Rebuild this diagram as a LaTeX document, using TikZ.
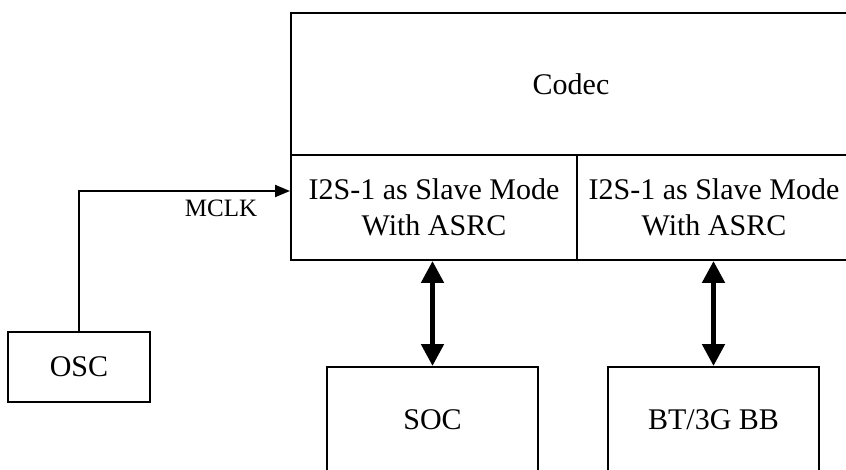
\documentclass[tikz,border=0pt]{standalone}
\usepackage{fontspec}
\setmainfont{Liberation Serif}
\usepackage{tikz}
\usetikzlibrary{calc}
\usetikzlibrary{arrows.meta}

\begin{document}
\begin{tikzpicture}[x=0.5pt, y=-0.5pt,
    box/.style={rectangle, draw=black, line width=1pt, inner sep=0pt, align=center,
                font=\fontsize{15}{18}\selectfont},
    bus/.style={line width=2.5pt, {Triangle[length=11pt,width=11pt]}-{Triangle[length=11pt,width=11pt]}}]
            \clip (0, 0) rectangle (846, 470);
            % codec with its two I2S ports
            \node[box, minimum width=280pt, minimum height=71pt] (codec) at (571, 84) {Codec};
            \node[box, minimum width=143pt, minimum height=52.5pt] (portA) at (434, 207.5) {I2S-1 as Slave Mode\\With ASRC};
            \node[box, minimum width=137pt, minimum height=52.5pt] (portB) at (714, 207.5) {I2S-1 as Slave Mode\\With ASRC};
            % devices below
            \node[box, minimum width=105.5pt, minimum height=53pt] (soc) at (432.5, 420) {SOC};
            \node[box, minimum width=105.5pt, minimum height=53pt] (bb) at (713.5, 420) {BT/3G BB};
            \node[box, minimum width=71pt, minimum height=35pt] (osc) at (79, 367) {OSC};
            % clock line
            \coordinate (bend) at (79, 191);
            \draw[line width=1pt, -{Triangle[length=7.5pt,width=6pt]}] (osc.north) -- (bend) -- (bend -| portA.west);
            \node[font=\fontsize{12.5}{15}\selectfont] (mclk) at (221, 208) {MCLK};
            % data buses
            \draw[bus] (portA.south -| soc.north) -- (soc.north);
            \draw[bus] (portB.south -| bb.north) -- (bb.north);
        \end{tikzpicture}
\end{document}
